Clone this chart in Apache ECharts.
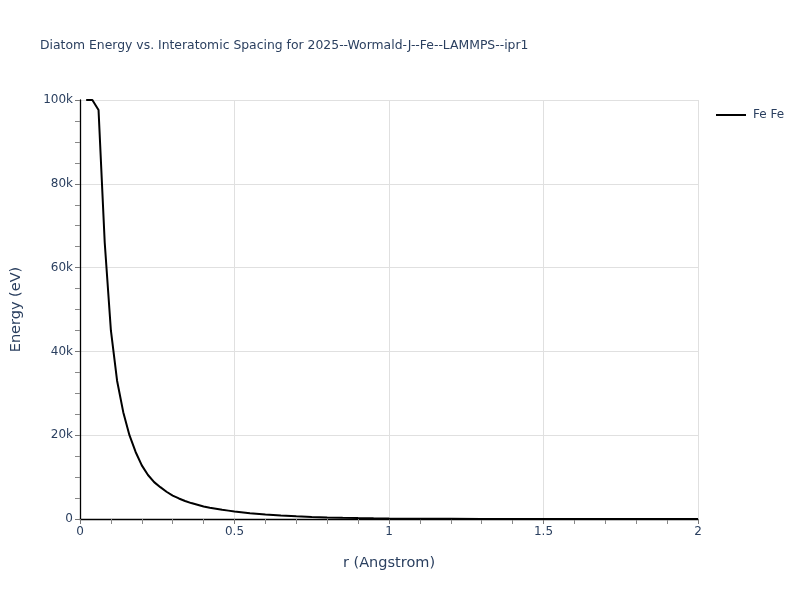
<!DOCTYPE html>
<html>
<head>
<meta charset="utf-8">
<script src="https://cdn.jsdelivr.net/npm/echarts@6/dist/echarts.min.js"></script>
<style>html,body{margin:0;padding:0;background:#fff}#c{width:800px;height:600px}</style>
</head>
<body>
<div id="c"></div>
<script>
const seriesName = 'Fe Fe';
const rValues = [0.02,0.04,0.06,0.08,0.10,0.12,0.14,0.16,0.18,0.20,0.22,0.24,0.26,0.28,0.30,0.32,0.34,0.36,0.38,0.40,0.42,0.44,0.46,0.48,0.50,0.55,0.60,0.65,0.70,0.75,0.80,0.85,0.90,0.95,1.00,1.10,1.20,1.30,1.40,1.50,1.60,1.70,1.80,1.90,2.00];
const energyValues = [100000,100000,97600,66000,45000,33000,25500,20000,16000,12800,10500,8800,7600,6500,5600,4900,4300,3800,3400,3000,2700,2450,2200,2000,1800,1400,1100,850,650,500,380,290,210,160,120,70,40,20,10,5,2,1,0.5,0.2,0];
const xTicks = {min:0, max:2, interval:0.5};
const yTicks = {min:0, max:100000, interval:20000};

const textColor = '#2a3f5f';
const font = 'DejaVu Sans, Verdana, sans-serif';
const chart = echarts.init(document.getElementById('c'));
chart.setOption({
  backgroundColor:'#fff',
  animation:false,
  title:{
    text:'Diatom Energy vs. Interatomic Spacing for 2025--Wormald-J--Fe--LAMMPS--ipr1',
    left:40, top:40, padding:0,
    textStyle:{fontFamily:font, fontSize:12.4, fontWeight:'normal', color:textColor}
  },
  legend:{
    data:[{name:seriesName, icon:'rect'}],
    left:716, top:109, padding:0,
    itemWidth:30, itemHeight:2, itemGap:6,
    textStyle:{fontFamily:font, fontSize:12, color:textColor, padding:[0,0,0,2]}
  },
  grid:{left:80, right:102, top:100, bottom:81, containLabel:false},
  xAxis:{
    type:'value', min:xTicks.min, max:xTicks.max, interval:xTicks.interval,
    name:'r (Angstrom)', nameLocation:'middle', nameGap:37,
    nameTextStyle:{fontFamily:font, fontSize:14.5, color:textColor},
    axisLine:{show:true, onZero:false, lineStyle:{color:'#000', width:1.3}},
    axisTick:{show:true, length:5, lineStyle:{color:'#777'}},
    minorTick:{show:true, splitNumber:5, length:5, lineStyle:{color:'#888'}},
    axisLabel:{fontFamily:font, fontSize:12, color:textColor, margin:7},
    splitLine:{show:true, lineStyle:{color:'#e0e0e0', width:1}}
  },
  yAxis:{
    type:'value', min:yTicks.min, max:yTicks.max, interval:yTicks.interval,
    name:'Energy (eV)', nameLocation:'middle', nameGap:56,
    nameTextStyle:{fontFamily:font, fontSize:14.5, color:textColor},
    axisLine:{show:true, onZero:false, lineStyle:{color:'#000', width:1.3}},
    axisTick:{show:true, length:5, lineStyle:{color:'#777'}},
    minorTick:{show:true, splitNumber:4, length:5, lineStyle:{color:'#888'}},
    axisLabel:{fontFamily:font, fontSize:12, color:textColor, margin:7,
      formatter:v => v === 0 ? '0' : (v/1000) + 'k'},
    splitLine:{show:true, lineStyle:{color:'#e0e0e0', width:1}}
  },
  series:[{
    name:seriesName, type:'line', showSymbol:false, symbol:'none', clip:true,
    lineStyle:{color:'#000', width:2}, itemStyle:{color:'#000'},
    data:rValues.map((r,i)=>[r, energyValues[i]])
  }]
});
</script>
</body>
</html>
